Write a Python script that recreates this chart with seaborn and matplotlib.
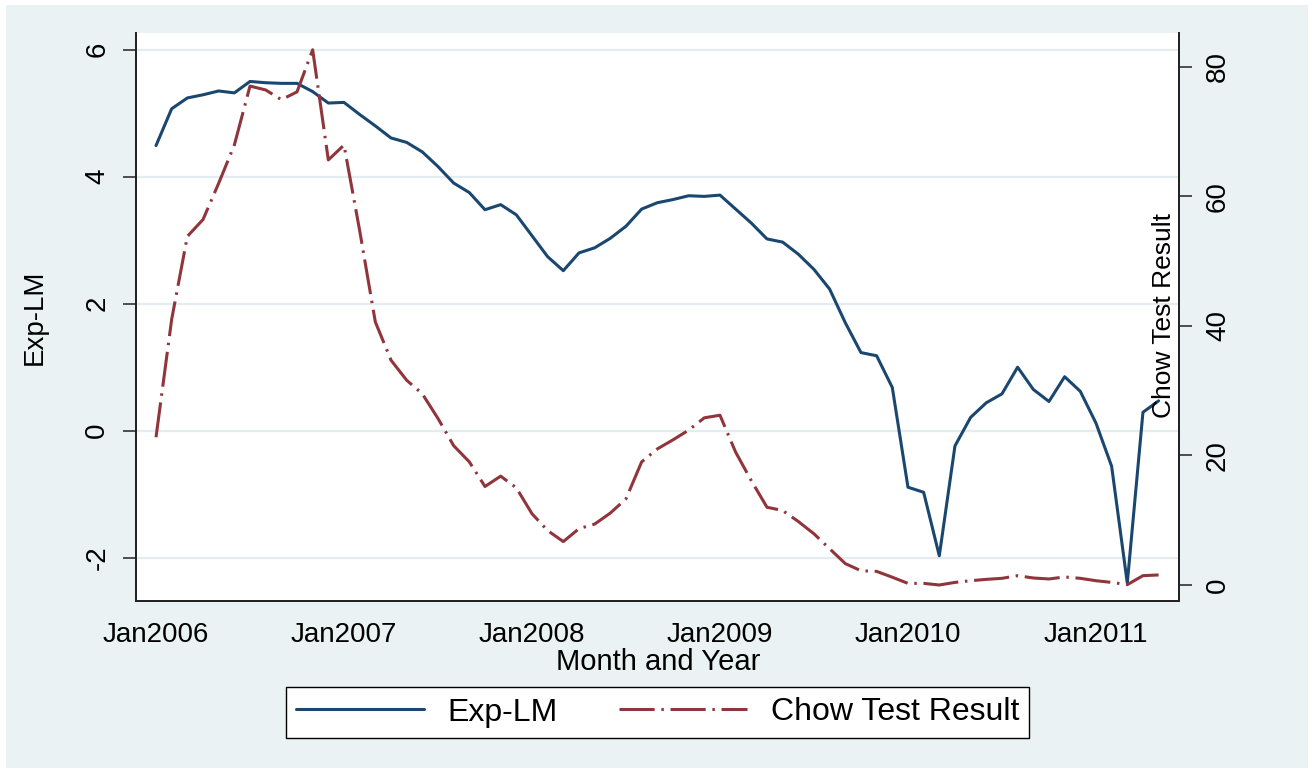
import matplotlib
matplotlib.use("Agg")
import matplotlib.pyplot as plt
from matplotlib.patches import Rectangle
import seaborn as sns
import pandas as pd

# monthly series, Jan2006 .. May2011
months = pd.period_range("2006-01", "2011-05", freq="M")
exp_lm = [4.49, 5.07, 5.24, 5.29, 5.35, 5.32, 5.50, 5.48, 5.47, 5.47, 5.34, 5.16,
          5.17, 4.98, 4.80, 4.61, 4.54, 4.39, 4.16, 3.90, 3.75, 3.48, 3.56, 3.40,
          3.07, 2.74, 2.52, 2.80, 2.88, 3.03, 3.22, 3.49, 3.59, 3.64, 3.70, 3.69,
          3.71, 3.49, 3.27, 3.02, 2.97, 2.78, 2.54, 2.23, 1.70, 1.23, 1.18, 0.68,
          -0.89, -0.97, -1.97, -0.24, 0.21, 0.44, 0.58, 1.00, 0.65, 0.46, 0.85, 0.62,
          0.12, -0.56, -2.40, 0.29, 0.47]
chow = [22.8, 41.0, 53.8, 56.4, 62.0, 67.9, 77.0, 76.4, 74.9, 76.1, 82.6, 65.6,
        67.9, 54.7, 40.6, 34.7, 31.6, 29.5, 25.7, 21.5, 19.0, 15.2, 16.8, 15.0,
        11.0, 8.4, 6.7, 8.7, 9.4, 11.1, 13.3, 19.0, 21.0, 22.4, 23.9, 25.8,
        26.2, 20.5, 16.1, 12.0, 11.5, 9.8, 7.9, 5.6, 3.3, 2.2, 2.1, 1.2,
        0.25, 0.25, 0.0, 0.4, 0.66, 0.87, 1.03, 1.44, 1.08, 0.93, 1.24, 1.03,
        0.66, 0.4, 0.05, 1.44, 1.55]
xtick_labels = ["Jan2006", "Jan2007", "Jan2008", "Jan2009", "Jan2010", "Jan2011"]
left_ticks = [-2, 0, 2, 4, 6]
right_ticks = [0, 20, 40, 60, 80]

df = pd.DataFrame({
    "m": (months.year - 2006) * 12 + months.month - 1,
    "exp_lm": exp_lm,
    "chow": chow,
})

NAVY = "#1A476F"
MAROON = "#90353B"
BG = "#EAF2F3"
GRID = "#E3ECEE"
AXC = "#222222"

sns.set_style("white")
plt.rcParams["font.family"] = ["Liberation Sans", "DejaVu Sans"]
plt.rcParams.update({"text.color": "black", "axes.labelcolor": "black",
                     "xtick.color": "black", "ytick.color": "black"})

W, H = 1314, 773
fig = plt.figure(figsize=(W / 100, H / 100), dpi=100, facecolor="white")
fig.patches.append(Rectangle((6 / W, 1 - 768 / H), (1308 - 6) / W, (768 - 5) / H,
                             transform=fig.transFigure, facecolor=BG, edgecolor="none", zorder=-10))

L, R, T, B = 136, 1179.3, 33, 601
ax = fig.add_axes([L / W, 1 - B / H, (R - L) / W, (B - T) / H])
ax.set_facecolor("white")
ax2 = ax.twinx()

sns.lineplot(data=df, x="m", y="exp_lm", ax=ax, color=NAVY, lw=2.2, legend=False)
sns.lineplot(data=df, x="m", y="chow", ax=ax2, color=MAROON, lw=2.2, legend=False,
             ls=(0, (11.5, 2.2, 0.8, 2.2)))

ax.set_xlim(-1.277, 65.32)
ax.set_ylim(-2.682, 6.263)
ax2.set_ylim(-2.47, 85.19)

ax.set_xticks(range(0, 61, 12))
ax.set_xticklabels(xtick_labels)
ax.set_yticks(left_ticks)
ax.set_yticklabels([str(v) for v in left_ticks])
ax2.set_yticks(right_ticks)
ax2.set_yticklabels([str(v) for v in right_ticks])

ax.grid(axis="y", color=GRID, lw=1.6)
ax.grid(axis="x", visible=False)
ax.set_axisbelow(True)

for a in (ax, ax2):
    a.spines["top"].set_visible(False)
    for s in ("left", "right", "bottom"):
        a.spines[s].set_color(AXC)
        a.spines[s].set_linewidth(1.3)
ax.tick_params(axis="x", direction="out", length=9, width=1.1, color=AXC, pad=6, labelsize=20)
ax.tick_params(axis="y", direction="out", length=9.5, width=1.1, color=AXC, pad=9, labelsize=20, left=True)
ax2.tick_params(axis="y", direction="out", length=9.5, width=1.1, color=AXC, pad=9, labelsize=20, right=True)
plt.setp(ax.get_yticklabels(), rotation=90, va="center")
plt.setp(ax2.get_yticklabels(), rotation=90, va="center")

ax.set_xlabel("Month and Year", fontsize=21)
ax.xaxis.set_label_coords(0.5008, -(662 - B) / (B - T))
ax.xaxis.label.set_va("center")
ax.set_ylabel("Exp-LM", fontsize=20)
ax.yaxis.set_label_coords((35 - L) / (R - L), 0.5)
ax.yaxis.label.set_va("center")
ax2.set_ylabel("Chow Test Result", fontsize=19)
ax2.yaxis.set_label_coords((1164 - L) / (R - L), (B - 316) / (B - T))
ax2.yaxis.label.set_rotation(90)
ax2.yaxis.label.set_va("center")
ax2.set_zorder(ax.get_zorder() + 1)
ax2.patch.set_visible(False)

handles = [ax.get_lines()[0], ax2.get_lines()[0]]
leg = fig.legend(handles, ["Exp-LM", "Chow Test Result"], loc="center",
                 bbox_to_anchor=(657.5 / W, 1 - 712.5 / H), ncol=2, fontsize=23,
                 frameon=True, fancybox=False, edgecolor="black", facecolor="white",
                 framealpha=1, handlelength=4.0, handletextpad=0.75, columnspacing=1.9,
                 borderpad=0.32, borderaxespad=0)
leg.get_frame().set_linewidth(1.0)

fig.savefig("out.png", dpi=100, facecolor="white")
